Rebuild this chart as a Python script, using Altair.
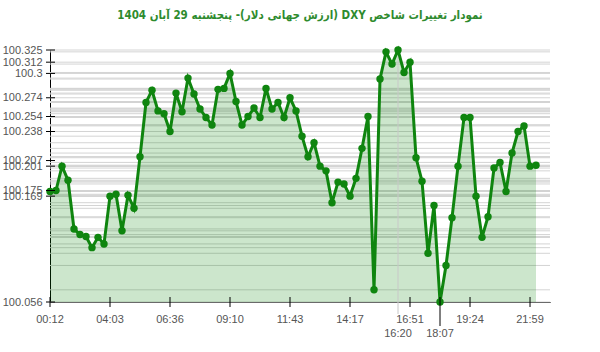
import altair as alt
import pandas as pd

values = [100.174, 100.175, 100.201, 100.186, 100.134, 100.128, 100.126, 100.114, 100.125, 100.118,
          100.169, 100.171, 100.132, 100.170, 100.156, 100.211, 100.269, 100.282, 100.260, 100.257,
          100.238, 100.279, 100.259, 100.295, 100.278, 100.262, 100.253, 100.245, 100.283, 100.284,
          100.300, 100.270, 100.245, 100.254, 100.263, 100.253, 100.284, 100.262, 100.269, 100.253,
          100.274, 100.260, 100.233, 100.211, 100.226, 100.201, 100.196, 100.162, 100.184, 100.182,
          100.169, 100.188, 100.220, 100.254, 100.069, 100.294, 100.323, 100.310, 100.325, 100.301,
          100.312, 100.210, 100.185, 100.108, 100.159, 100.056, 100.095, 100.146, 100.201, 100.253,
          100.253, 100.169, 100.125, 100.147, 100.199, 100.205, 100.174, 100.215, 100.238, 100.244,
          100.201, 100.202]
tick_idx = [0, 10, 20, 30, 40, 50, 60, 70, 80]
tick_labels = ["00:12", "04:03", "06:36", "09:10", "11:43", "14:17", "16:51", "19:24", "21:59"]
extra_idx = [58, 65]
extra_labels = ["16:20", "18:07"]
y_labels = [100.056, 100.169, 100.175, 100.201, 100.207, 100.238, 100.254, 100.274, 100.3, 100.312, 100.325]
title = "\u202bنمودار تغییرات شاخص DXY (ارزش جهانی دلار)- پنجشنبه  29 آبان 1404\u202c"

W, H = 500, 252
GREEN = "#0f850f"
df = pd.DataFrame({"idx": list(range(len(values))), "value": values})
ticks_df = pd.DataFrame({"idx": tick_idx, "label": tick_labels})
extra_df = pd.DataFrame({"idx": extra_idx, "label": extra_labels})
ylab_df = pd.DataFrame({"value": y_labels})

xs = alt.Scale(domain=[0, 83.33], nice=False)
ys = alt.Scale(domain=[min(values), max(values)], nice=False, zero=False)

x_axis = alt.Axis(labels=False, ticks=False, grid=False, domainColor="#000", title=None)
y_axis = alt.Axis(values=y_labels, ticks=False, grid=False, domainColor="#000",
                  labelOverlap=False, labelColor="#555", labelFont="Liberation Sans",
                  labelFontSize=11, labelPadding=8, format=".3~f", title=None)
X = alt.X("idx:Q", scale=xs, axis=x_axis)
Y = alt.Y("value:Q", scale=ys, stack=None, axis=y_axis)

base = alt.Chart(df)

grid = base.mark_rule(color="#d4d4d4", strokeWidth=1).encode(
    y=Y, x=alt.value(0), x2=alt.value(W))

area = base.mark_area(color="green", opacity=0.2).encode(x=X, y=Y, y2=alt.value(H))

vline = alt.Chart(extra_df.iloc[[0]]).mark_rule(color="#c8c8c8", strokeWidth=1).encode(
    x=X, y=alt.value(0), y2=alt.value(H + 12))

line = base.mark_line(color=GREEN, strokeWidth=3).encode(x=X, y=Y)
pts = base.mark_circle(color=GREEN, size=55, opacity=1).encode(x=X, y=Y)

xticks = alt.Chart(ticks_df).mark_rule(color="#000", strokeWidth=1).encode(
    x=X, y=alt.value(H - 5), y2=alt.value(H + 5))
xtick2 = alt.Chart(extra_df.iloc[[1]]).mark_rule(color="#000", strokeWidth=1).encode(
    x=X, y=alt.value(H - 5), y2=alt.value(H + 24))
yticks = alt.Chart(ylab_df).mark_rule(color="#000", strokeWidth=1).encode(
    y=Y, x=alt.value(-4), x2=alt.value(5))

xlab = alt.Chart(ticks_df).mark_text(font="Liberation Sans", fontSize=11, color="#555", baseline="middle").encode(
    x=X, y=alt.value(H + 18), text="label:N")
xlab2 = alt.Chart(extra_df).mark_text(font="Liberation Sans", fontSize=11, color="#555", baseline="middle").encode(
    x=X, y=alt.value(H + 32), text="label:N")

chart = alt.layer(grid, area, vline, line, pts, xticks, xtick2, yticks, xlab, xlab2).properties(
    width=W, height=H,
    autosize=alt.AutoSizeParams(type="none"),
    padding={"left": 50, "top": 50, "right": 50, "bottom": 50},
    title=alt.Title(title, font="DejaVu Sans Condensed, DejaVu Sans", fontSize=11.5, fontWeight="bold",
                    color="#2e8b2e", anchor="middle", offset=23),
).configure_view(stroke=None)

chart.save("out.html", embed_options={"renderer": "svg", "actions": False})
